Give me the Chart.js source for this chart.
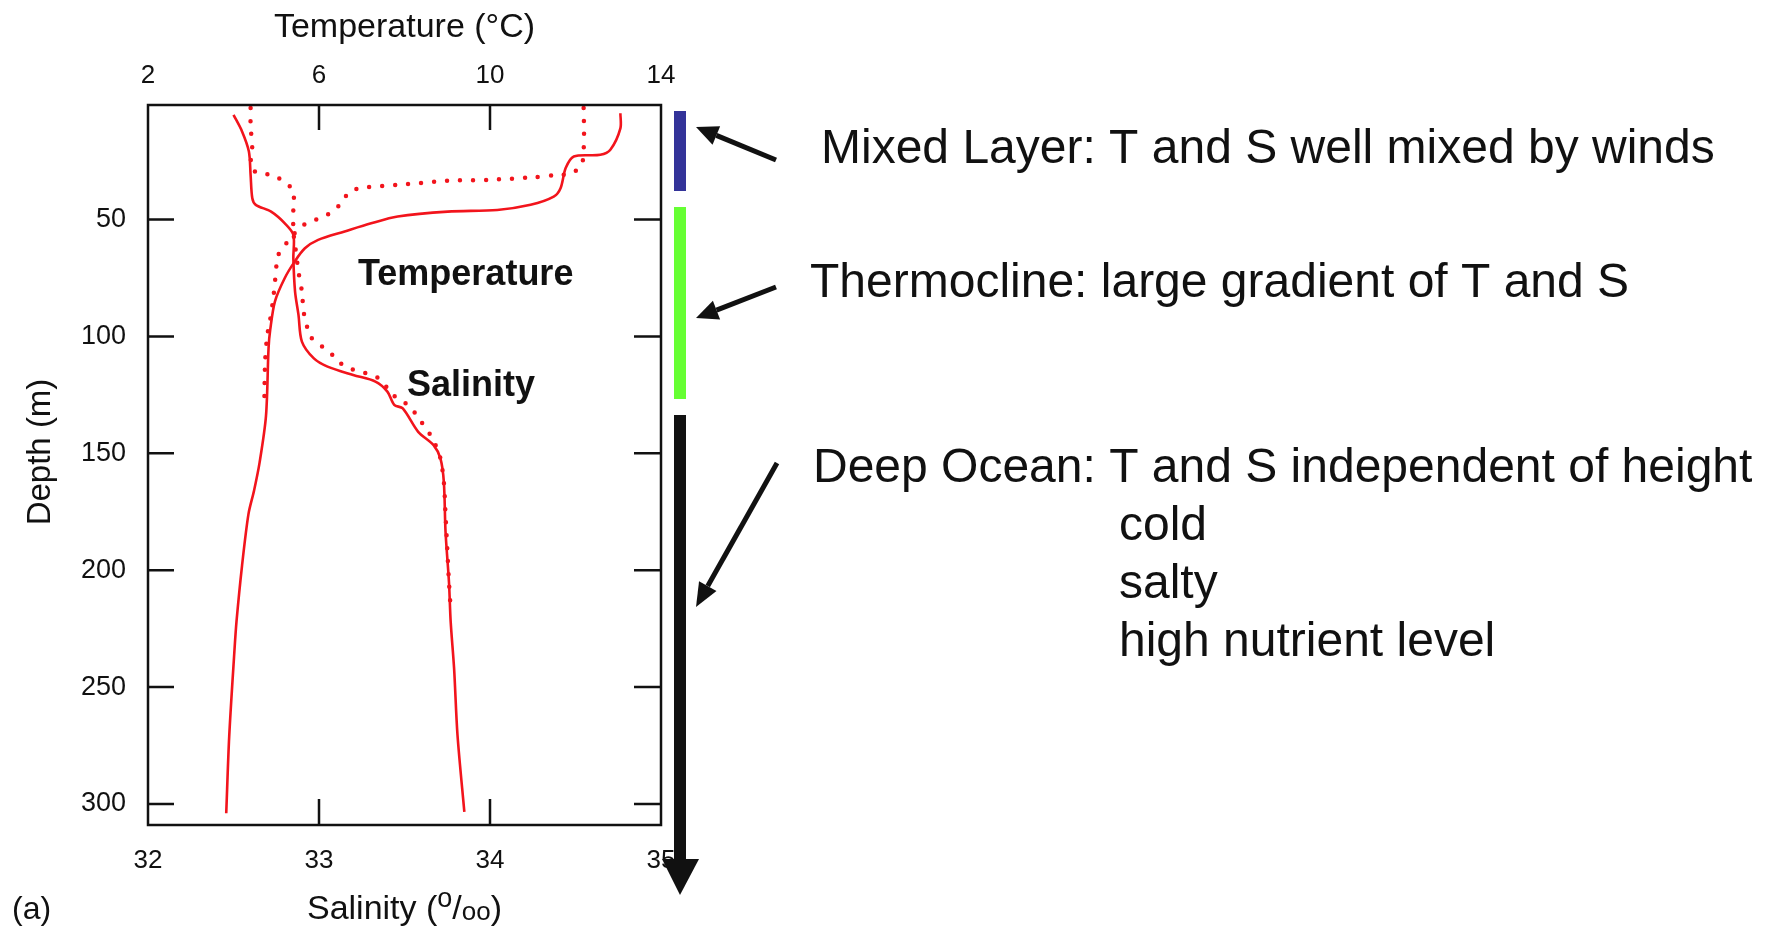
<!DOCTYPE html>
<html>
<head>
<meta charset="utf-8">
<style>
  html, body { margin: 0; padding: 0; background: #ffffff; }
  #contenedor { position: relative; width: 1771px; height: 930px; }
</style>
<script src="https://cdn.jsdelivr.net/npm/chart.js@4.4.1/dist/chart.umd.min.js"></script>
</head>
<body>
<div id="contenedor"><canvas id="grafica"></canvas></div>
<script>
// Profundidades (m) y valores
const profTempSolida = [4.5, 11, 20, 22.3, 23, 28, 36.6, 40.2, 43.7, 45.9, 46.6, 48.7, 51.6, 55.1, 58.7, 62.3, 68, 75, 85, 97, 105, 134, 154, 166, 176, 198, 222, 235, 271, 304];
const tempSolida = [13.05, 13.05, 12.82, 12.58, 11.96, 11.77, 11.65, 11.49, 10.95, 10.17, 9.01, 7.84, 7.22, 6.6, 5.98, 5.67, 5.43, 5.2, 4.97, 4.86, 4.82, 4.76, 4.61, 4.48, 4.35, 4.2, 4.07, 4.02, 3.9, 3.83];

const profSalSolida = [5.2, 12.3, 20.9, 30.9, 40.9, 43.7, 46.6, 51.6, 56.5, 66.6, 80.8, 90.8, 102.2, 109.4, 112.9, 116.5, 119.3, 123.6, 129.3, 130.8, 140.8, 146.5, 152.2, 162.2, 183.6, 205, 222, 242, 270.6, 303.4];
const salSolida = [32.5, 32.55, 32.59, 32.6, 32.61, 32.63, 32.72, 32.8, 32.85, 32.85, 32.86, 32.88, 32.9, 32.97, 33.05, 33.2, 33.33, 33.4, 33.44, 33.49, 33.58, 33.67, 33.71, 33.73, 33.74, 33.76, 33.77, 33.79, 33.81, 33.85];

const profTempPunteada = [2.3, 12.3, 20.2, 25.9, 30.2, 30.9, 32, 33, 33.4, 34.9, 36.3, 38, 43, 46.9, 49.4, 51.6, 55.9, 60.1, 65.1, 76.5, 83.7, 93.7, 99.4, 110.8, 129.3];
const tempPunteada = [12.19, 12.2, 12.19, 12.15, 11.92, 11.57, 10.95, 9.98, 9.01, 8.04, 7.07, 6.72, 6.52, 6.29, 6.02, 5.7, 5.43, 5.24, 5.05, 4.97, 4.93, 4.85, 4.79, 4.74, 4.72];

const profSalPunteada = [2.3, 9.5, 20.9, 26.6, 30.2, 30.9, 33.7, 37.6, 43.7, 55.1, 60.8, 72.3, 80.8, 89.4, 95.8, 99.4, 104.4, 108.6, 112.9, 114.8, 116.5, 119, 124.4, 127.2, 130.8, 135.8, 140.8, 146.2, 152.2, 162.2, 176.4, 190.7, 205, 216.4];
const salPunteada = [32.6, 32.6, 32.61, 32.6, 32.64, 32.73, 32.79, 32.85, 32.85, 32.85, 32.86, 32.88, 32.9, 32.91, 32.93, 32.94, 33.02, 33.09, 33.15, 33.23, 33.31, 33.37, 33.42, 33.48, 33.54, 33.59, 33.64, 33.68, 33.71, 33.73, 33.74, 33.75, 33.76, 33.77];

// Marcas de los ejes
const marcasTemp = [2, 6, 10, 14];
const marcasSal = [32, 33, 34, 35];
const marcasProf = [50, 100, 150, 200, 250, 300];

// Textos de la figura
const notaMezcla = 'Mixed Layer: T and S well mixed by winds';
const notaTermoclina = 'Thermocline: large gradient of T and S';
const notaProfunda = 'Deep Ocean: T and S independent of height';
const notasProfundas = ['cold', 'salty', 'high nutrient level'];

(function(){
    const colores = {
        rojo: '#f2141c',
        negro: '#111111',
        azul: '#333399',
        verde: '#66ff33'
    };
    const fuente = '"Liberation Sans", Arial, Helvetica, sans-serif';
    Chart.defaults.font.family = fuente;
    Chart.defaults.color = colores.negro;

    const aPuntos = (valores, prof) => valores.map((v, i) => ({ x: v, y: prof[i] }));

    // Flecha con cabeza triangular
    function flecha(ctx, x1, y1, x2, y2, grosor, largoCabeza, anchoCabeza) {
        const ang = Math.atan2(y2 - y1, x2 - x1);
        const bx = x2 - largoCabeza * Math.cos(ang);
        const by = y2 - largoCabeza * Math.sin(ang);
        ctx.lineWidth = grosor;
        ctx.lineCap = 'butt';
        ctx.beginPath();
        ctx.moveTo(x1, y1);
        ctx.lineTo(bx, by);
        ctx.stroke();
        ctx.beginPath();
        ctx.moveTo(x2, y2);
        ctx.lineTo(bx + anchoCabeza * Math.sin(ang), by - anchoCabeza * Math.cos(ang));
        ctx.lineTo(bx - anchoCabeza * Math.sin(ang), by + anchoCabeza * Math.cos(ang));
        ctx.closePath();
        ctx.fill();
    }

    const decoracion = {
        id: 'decoracion',
        afterDraw(chart) {
            const ctx = chart.ctx;
            const area = chart.chartArea;
            const escY = chart.scales.y;
            const escT = chart.scales.xT;
            const escS = chart.scales.xS;
            ctx.save();

            // Marco y marcas hacia dentro
            ctx.strokeStyle = colores.negro;
            ctx.lineWidth = 2.5;
            ctx.strokeRect(area.left, area.top, area.right - area.left, area.bottom - area.top);
            ctx.beginPath();
            marcasProf.forEach(v => {
                const py = escY.getPixelForValue(v);
                ctx.moveTo(area.left, py); ctx.lineTo(area.left + 26, py);
                ctx.moveTo(area.right, py); ctx.lineTo(area.right - 27, py);
            });
            marcasTemp.slice(1, -1).forEach(v => {
                const px = escT.getPixelForValue(v);
                ctx.moveTo(px, area.top); ctx.lineTo(px, area.top + 25);
            });
            marcasSal.slice(1, -1).forEach(v => {
                const px = escS.getPixelForValue(v);
                ctx.moveTo(px, area.bottom); ctx.lineTo(px, area.bottom - 26);
            });
            ctx.stroke();

            // Titulos de ejes
            const centro = (area.left + area.right) / 2;
            ctx.fillStyle = colores.negro;
            ctx.textAlign = 'center';
            ctx.textBaseline = 'alphabetic';
            ctx.font = '34px ' + fuente;
            ctx.fillText('Temperature (\u00B0C)', centro, 37);

            // Salinidad con notacion o/oo
            const partes = [
                { t: 'Salinity (', f: '34px ', dy: 0 },
                { t: 'o', f: '27px ', dy: -12 },
                { t: '/', f: '34px ', dy: 0 },
                { t: 'oo', f: '26px ', dy: 1 },
                { t: ')', f: '34px ', dy: 0 }
            ];
            let total = 0;
            partes.forEach(p => { ctx.font = p.f + fuente; p.w = ctx.measureText(p.t).width; total += p.w; });
            let xx = centro - total / 2;
            ctx.textAlign = 'left';
            partes.forEach(p => { ctx.font = p.f + fuente; ctx.fillText(p.t, xx, 919 + p.dy); xx += p.w; });

            ctx.font = '32px ' + fuente;
            ctx.fillText('(a)', 12, 919);

            ctx.save();
            ctx.translate(50, 452);
            ctx.rotate(-Math.PI / 2);
            ctx.textAlign = 'center';
            ctx.font = '33px ' + fuente;
            ctx.fillText('Depth (m)', 0, 0);
            ctx.restore();

            // Rotulos de curvas
            ctx.textAlign = 'left';
            ctx.font = 'bold 36px ' + fuente;
            ctx.fillText('Temperature', 358, 285);
            ctx.fillText('Salinity', 407, 396);

            // Barras de capas
            ctx.fillStyle = colores.azul;
            ctx.fillRect(674, 111, 12, 80);
            ctx.fillStyle = colores.verde;
            ctx.fillRect(674, 207, 12, 192);
            ctx.fillStyle = colores.negro;
            ctx.fillRect(674, 415, 12, 446);
            ctx.beginPath();
            ctx.moveTo(662, 859);
            ctx.lineTo(699, 859);
            ctx.lineTo(680, 895);
            ctx.closePath();
            ctx.fill();

            // Flechas
            ctx.strokeStyle = colores.negro;
            flecha(ctx, 776, 160, 696, 127, 5, 22, 10);
            flecha(ctx, 776, 287, 696, 318, 5, 22, 10);
            flecha(ctx, 777, 463, 696, 607, 5, 24, 10);

            // Notas
            ctx.fillStyle = colores.negro;
            ctx.font = '48px ' + fuente;
            ctx.fillText(notaMezcla, 821, 163);
            ctx.fillText(notaTermoclina, 810, 297);
            ctx.fillText(notaProfunda, 813, 482);
            notasProfundas.forEach((t, i) => ctx.fillText(t, 1119, 540 + i * 58));

            ctx.restore();
        }
    };

    const ctx1 = document.getElementById('grafica').getContext('2d');
    new Chart(ctx1, {
        type: 'line',
        data: {
            datasets: [
                {
                    label: 'Temperature',
                    data: aPuntos(tempSolida, profTempSolida),
                    xAxisID: 'xT',
                    yAxisID: 'y',
                    borderColor: colores.rojo,
                    borderWidth: 2.6,
                    pointRadius: 0,
                    tension: 0.3
                },
                {
                    label: 'Salinity',
                    data: aPuntos(salSolida, profSalSolida),
                    xAxisID: 'xS',
                    yAxisID: 'y',
                    borderColor: colores.rojo,
                    borderWidth: 2.6,
                    pointRadius: 0,
                    tension: 0.3
                },
                {
                    label: 'Temperature (dotted)',
                    data: aPuntos(tempPunteada, profTempPunteada),
                    xAxisID: 'xT',
                    yAxisID: 'y',
                    borderColor: colores.rojo,
                    borderWidth: 4.5,
                    borderDash: [0, 13],
                    borderCapStyle: 'round',
                    pointRadius: 0,
                    tension: 0.3
                },
                {
                    label: 'Salinity (dotted)',
                    data: aPuntos(salPunteada, profSalPunteada),
                    xAxisID: 'xS',
                    yAxisID: 'y',
                    borderColor: colores.rojo,
                    borderWidth: 4.5,
                    borderDash: [0, 13],
                    borderCapStyle: 'round',
                    pointRadius: 0,
                    tension: 0.3
                }
            ]
        },
        options: {
            responsive: true,
            maintainAspectRatio: false,
            animation: false,
            layout: { padding: { left: 0, right: 1110, top: 0, bottom: 0 } },
            plugins: {
                legend: { display: false },
                tooltip: { enabled: false }
            },
            scales: {
                xT: {
                    type: 'linear',
                    position: 'top',
                    min: 2,
                    max: 14,
                    afterBuildTicks: s => { s.ticks = marcasTemp.map(v => ({ value: v })); },
                    afterFit: s => { s.height = 105; },
                    grid: { display: false, drawTicks: false },
                    border: { display: false },
                    ticks: { padding: 14, font: { size: 26 }, color: colores.negro, maxRotation: 0 }
                },
                xS: {
                    type: 'linear',
                    position: 'bottom',
                    min: 32,
                    max: 35,
                    afterBuildTicks: s => { s.ticks = marcasSal.map(v => ({ value: v })); },
                    afterFit: s => { s.height = 105; },
                    grid: { display: false, drawTicks: false },
                    border: { display: false },
                    ticks: { padding: 20, font: { size: 26 }, color: colores.negro, maxRotation: 0 }
                },
                y: {
                    type: 'linear',
                    position: 'left',
                    reverse: true,
                    min: 1,
                    max: 309,
                    afterBuildTicks: s => { s.ticks = marcasProf.map(v => ({ value: v })); },
                    afterFit: s => { s.width = 148; },
                    grid: { display: false, drawTicks: false },
                    border: { display: false },
                    ticks: { padding: 22, font: { size: 27 }, color: colores.negro }
                }
            }
        },
        plugins: [decoracion]
    });
})();
</script>
</body>
</html>
